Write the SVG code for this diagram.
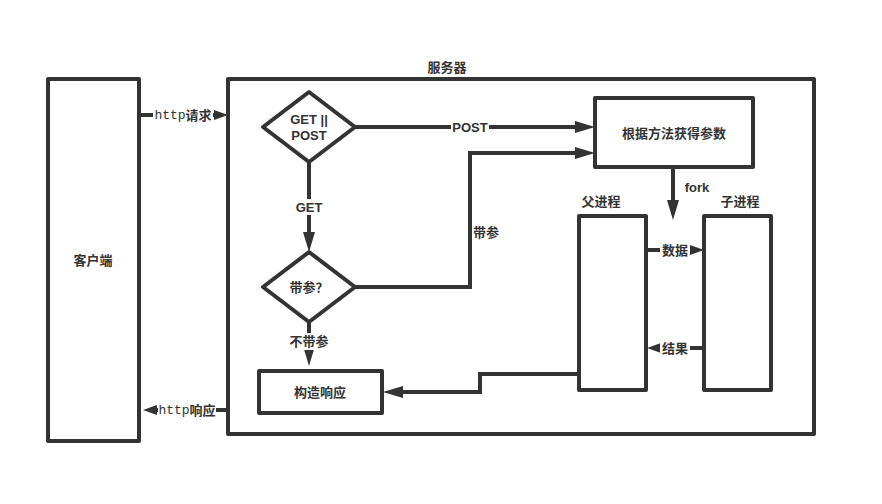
<svg xmlns="http://www.w3.org/2000/svg" width="882" height="504" viewBox="0 0 882 504">
<style>
.box{fill:#fff;stroke:#333;stroke-width:4;stroke-linejoin:round}
.ln{fill:none;stroke:#333;stroke-width:4}
.t{font-family:"Liberation Sans","Noto Sans CJK SC",sans-serif;font-size:13px;font-weight:bold;fill:#333;text-anchor:middle;dominant-baseline:central}
.m{font-family:"Liberation Mono",monospace;font-weight:normal}
.bg{fill:#fff}
</style>
<defs>
<marker id="a" markerUnits="userSpaceOnUse" markerWidth="20" markerHeight="12" refX="0" refY="6" orient="auto" overflow="visible">
<path d="M0,0 L20,6 L0,12 z" fill="#333"/>
</marker>
<marker id="s" markerUnits="userSpaceOnUse" markerWidth="14" markerHeight="10" refX="0" refY="5" orient="auto" overflow="visible">
<path d="M0,0 L14,5 L0,10 z" fill="#333"/>
</marker>
</defs>
<rect width="882" height="504" fill="#fff"/>
<g id="client"><rect class="box" x="48" y="79" width="91" height="362"/><text class="t" x="93" y="260">客户端</text></g>
<g id="server"><rect class="box" x="228" y="79" width="586" height="355"/><text class="t" x="447" y="67">服务器</text></g>
<g id="connectors">
<path class="ln" d="M139,115 H214" marker-end="url(#s)"/>
<path class="ln" d="M228,410 H157" marker-end="url(#s)"/>
<path class="ln" d="M355,127 H575" marker-end="url(#a)"/>
<path class="ln" d="M309,162 V232" marker-end="url(#a)"/>
<path class="ln" d="M355,287 H470 V153 H575" marker-end="url(#a)"/>
<path class="ln" d="M309,322 V346" marker-end="url(#a)"/>
<path class="ln" d="M673,168 V200" marker-end="url(#a)"/>
<path class="ln" d="M647,250 H690" marker-end="url(#s)"/>
<path class="ln" d="M704,348 H661" marker-end="url(#s)"/>
<path class="ln" d="M579,374 H480 V392 H403" marker-end="url(#a)"/>
<rect class="bg" x="153" y="106" width="60" height="18"/>
<text class="t" x="183" y="115"><tspan class="m">http</tspan>请求</text>
<rect class="bg" x="158" y="401" width="58" height="18"/>
<text class="t" x="187" y="410"><tspan class="m">http</tspan>响应</text>
<rect class="bg" x="451" y="119" width="38" height="16"/>
<text class="t" x="470" y="127">POST</text>
<rect class="bg" x="292" y="199" width="34" height="16"/>
<text class="t" x="309" y="207">GET</text>
<text class="t" x="486" y="232">带参</text>
<rect class="bg" x="287" y="333" width="44" height="17"/>
<text class="t" x="309" y="341">不带参</text>
<text class="t" x="697" y="187">fork</text>
<rect class="bg" x="660" y="242" width="30" height="16"/>
<text class="t" x="675" y="250">数据</text>
<rect class="bg" x="660" y="340" width="30" height="16"/>
<text class="t" x="675" y="348">结果</text>
</g>
<g id="decide-method"><path class="box" d="M309,92 L355,127 L309,162 L263,127 z"/><text class="t" x="309" y="119">GET ||</text><text class="t" x="309" y="135">POST</text></g>
<g id="decide-param"><path class="box" d="M309,252 L355,287 L309,322 L263,287 z"/><text class="t" x="309" y="287">带参？</text></g>
<g id="get-params"><rect class="box" x="595" y="98" width="158" height="69"/><text class="t" x="674" y="133">根据方法获得参数</text></g>
<g id="parent"><rect class="box" x="579" y="216" width="67" height="174"/><text class="t" x="601" y="201">父进程</text></g>
<g id="child"><rect class="box" x="704" y="216" width="67" height="174"/><text class="t" x="740" y="201">子进程</text></g>
<g id="build-response"><rect class="box" x="259" y="371" width="123" height="42"/><text class="t" x="320" y="392">构造响应</text></g>
</svg>
